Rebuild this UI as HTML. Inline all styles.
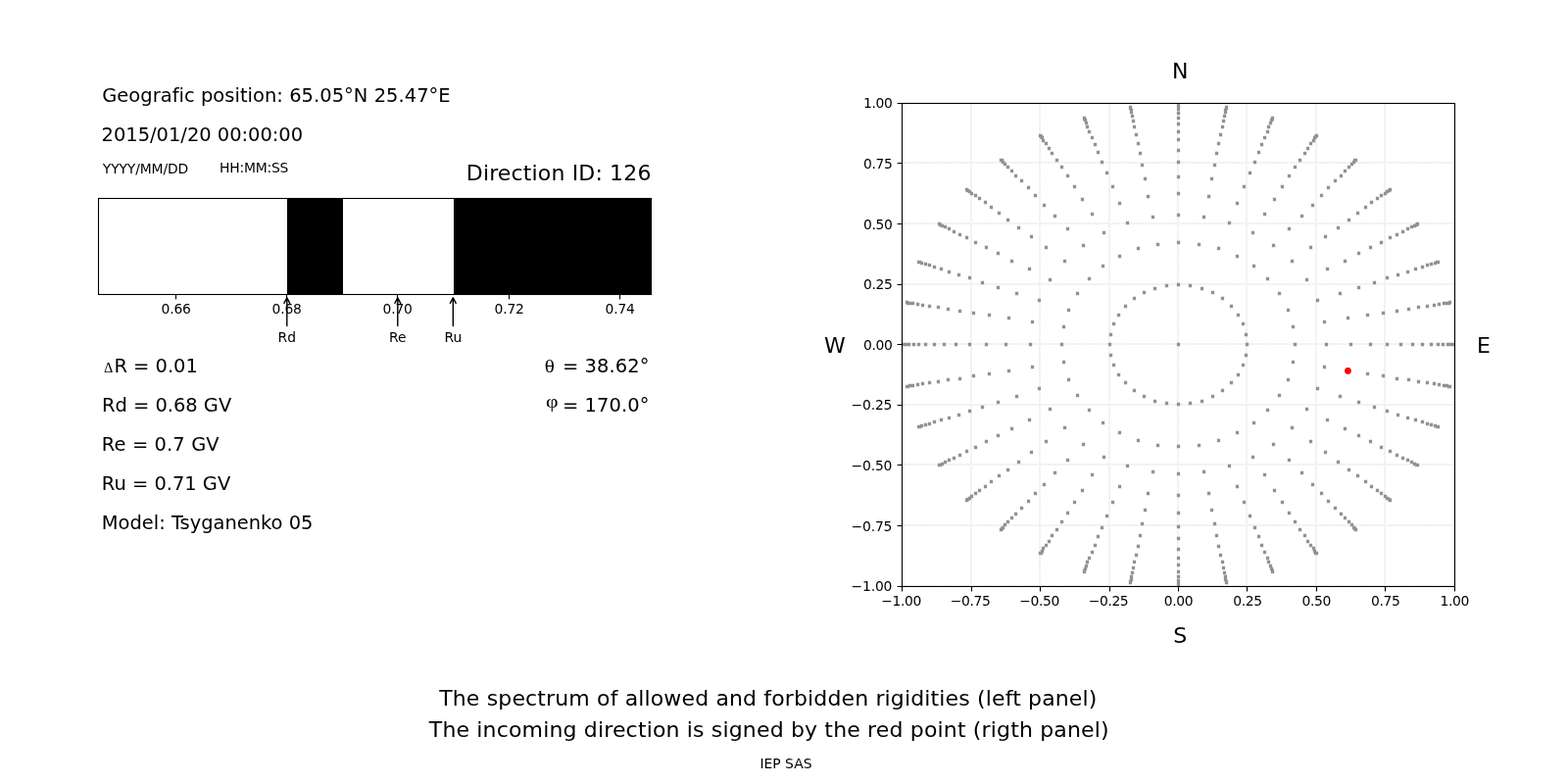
<!DOCTYPE html>
<html lang="en"><head><meta charset="utf-8"><title>Direction 126</title>
<style>html,body{margin:0;padding:0;background:#fff;overflow:hidden}svg{display:block}text{font-family:"DejaVu Sans","Liberation Sans",sans-serif;fill:#000;text-rendering:geometricPrecision;font-variant-ligatures:none;font-feature-settings:"liga" 0,"clig" 0}.s{font-family:"Liberation Serif","DejaVu Serif",serif}.t10{font-size:13.889px;text-rendering:auto}.t14{font-size:19.444px;text-rendering:auto}.t16{font-size:22px;text-rendering:auto}.m{text-anchor:middle}.e{text-anchor:end}</style></head><body>
<svg width="1600" height="800" viewBox="0 0 1600 800">
<rect width="1600" height="800" fill="#fff"/>
<g id="left">
<text class="t14" x="104.2" y="103.8" textLength="355.4">Geografic position: 65.05°N 25.47°E</text>
<text class="t14" x="103.6" y="143.6">2015/01/20 00:00:00</text>
<text class="t10" x="104.8" y="176.9" textLength="87.4">YYYY/MM/DD</text>
<text class="t10" x="224.0" y="176" textLength="70.4">HH:MM:SS</text>
<text class="t16 e" x="664.4" y="183.8" textLength="188.6">Direction ID: 126</text>
<rect x="293" y="202.5" width="57" height="98.0" fill="#000"/>
<rect x="463" y="202.5" width="201.5" height="98.0" fill="#000"/>
<rect x="100.5" y="202.5" width="564.0" height="98.0" fill="none" stroke="#000" stroke-width="1.1"/>
<line x1="179.5" y1="300.5" x2="179.5" y2="305.4" stroke="#000" stroke-width="1.1"/>
<text class="t10 m" x="179.7" y="319.8" textLength="30.3">0.66</text>
<line x1="292.5" y1="300.5" x2="292.5" y2="305.4" stroke="#000" stroke-width="1.1"/>
<text class="t10 m" x="292.7" y="319.8" textLength="30.3">0.68</text>
<line x1="405.5" y1="300.5" x2="405.5" y2="305.4" stroke="#000" stroke-width="1.1"/>
<text class="t10 m" x="405.7" y="319.8" textLength="30.3">0.70</text>
<line x1="519.5" y1="300.5" x2="519.5" y2="305.4" stroke="#000" stroke-width="1.1"/>
<text class="t10 m" x="519.7" y="319.8" textLength="30.3">0.72</text>
<line x1="632.5" y1="300.5" x2="632.5" y2="305.4" stroke="#000" stroke-width="1.1"/>
<text class="t10 m" x="632.7" y="319.8" textLength="30.3">0.74</text>
<path d="M292.8 332.6V303.9M289.9 309.4L292.8 303.9L295.7 309.4" fill="none" stroke="#000" stroke-width="1.4" stroke-linejoin="round" stroke-linecap="round"/>
<text class="t10 m" x="292.8" y="348.7">Rd</text>
<path d="M405.8 332.6V303.9M402.9 309.4L405.8 303.9L408.7 309.4" fill="none" stroke="#000" stroke-width="1.4" stroke-linejoin="round" stroke-linecap="round"/>
<text class="t10 m" x="405.8" y="348.7">Re</text>
<path d="M462.3 332.6V303.9M459.4 309.4L462.3 303.9L465.2 309.4" fill="none" stroke="#000" stroke-width="1.4" stroke-linejoin="round" stroke-linecap="round"/>
<text class="t10 m" x="462.3" y="348.7">Ru</text>
<text class="t14" x="106" y="380.1"><tspan class="s" font-size="14.5px">Δ</tspan><tspan x="116.4">R = 0.01</tspan></text>
<text class="t14" x="103.9" y="419.8">Rd = 0.68 GV</text>
<text class="t14" x="103.8" y="459.9" textLength="119.8">Re = 0.7 GV</text>
<text class="t14" x="103.8" y="499.9">Ru = 0.71 GV</text>
<text class="t14" x="103.8" y="540">Model: Tsyganenko 05</text>
<text class="t14 s" transform="translate(555.8 380.1) scale(1.09 0.95)">θ</text>
<text class="t14 e" x="662.5" y="380.1" textLength="88.6">= 38.62°</text>
<text class="t14 s" transform="translate(557 415.8) scale(1.12 0.98)">φ</text>
<text class="t14 e" x="662.5" y="419.8" textLength="88.6">= 170.0°</text>
</g>
<g id="right">
<clipPath id="c"><rect x="920.5" y="105.5" width="564.0" height="493.0"/></clipPath>
<path clip-path="url(#c)" d="M920 598.5V105.5M920.5 598H1484.5M991 598.5V105.5M920.5 536H1484.5M1061 598.5V105.5M920.5 474H1484.5M1132 598.5V105.5M920.5 413H1484.5M1202 598.5V105.5M920.5 351H1484.5M1272 598.5V105.5M920.5 290H1484.5M1343 598.5V105.5M920.5 228H1484.5M1413 598.5V105.5M920.5 166H1484.5M1484 598.5V105.5M920.5 105H1484.5" fill="none" stroke="#f5f5f5" stroke-width="2"/>
<path clip-path="url(#c)" d="M920 598.5V105.5M920.5 598H1484.5M991 598.5V105.5M920.5 536H1484.5M1061 598.5V105.5M920.5 474H1484.5M1132 598.5V105.5M920.5 413H1484.5M1202 598.5V105.5M920.5 351H1484.5M1272 598.5V105.5M920.5 290H1484.5M1343 598.5V105.5M920.5 228H1484.5M1413 598.5V105.5M920.5 166H1484.5M1484 598.5V105.5M920.5 105H1484.5" fill="none" stroke="#f2f2f2" stroke-width="2" stroke-dasharray="4.3 1.6"/>
<path clip-path="url(#c)" d="M1200.85 349.85h3.3v3.3h-3.3zM1270.85 349.85h3.3v3.3h-3.3zM1269.85 339.85h3.3v3.3h-3.3zM1266.85 328.85h3.3v3.3h-3.3zM1261.85 319.85h3.3v3.3h-3.3zM1254.85 310.85h3.3v3.3h-3.3zM1245.85 302.85h3.3v3.3h-3.3zM1235.85 296.85h3.3v3.3h-3.3zM1224.85 292.85h3.3v3.3h-3.3zM1212.85 289.85h3.3v3.3h-3.3zM1200.85 288.85h3.3v3.3h-3.3zM1188.85 289.85h3.3v3.3h-3.3zM1176.85 292.85h3.3v3.3h-3.3zM1165.85 296.85h3.3v3.3h-3.3zM1155.85 302.85h3.3v3.3h-3.3zM1146.85 310.85h3.3v3.3h-3.3zM1139.85 319.85h3.3v3.3h-3.3zM1134.85 328.85h3.3v3.3h-3.3zM1131.85 339.85h3.3v3.3h-3.3zM1130.85 349.85h3.3v3.3h-3.3zM1131.85 360.85h3.3v3.3h-3.3zM1134.85 370.85h3.3v3.3h-3.3zM1139.85 380.85h3.3v3.3h-3.3zM1146.85 388.85h3.3v3.3h-3.3zM1155.85 396.85h3.3v3.3h-3.3zM1165.85 402.85h3.3v3.3h-3.3zM1176.85 407.85h3.3v3.3h-3.3zM1188.85 409.85h3.3v3.3h-3.3zM1200.85 410.85h3.3v3.3h-3.3zM1212.85 409.85h3.3v3.3h-3.3zM1224.85 407.85h3.3v3.3h-3.3zM1235.85 402.85h3.3v3.3h-3.3zM1245.85 396.85h3.3v3.3h-3.3zM1254.85 388.85h3.3v3.3h-3.3zM1261.85 380.85h3.3v3.3h-3.3zM1266.85 370.85h3.3v3.3h-3.3zM1269.85 360.85h3.3v3.3h-3.3zM1319.85 349.85h3.3v3.3h-3.3zM1317.85 331.85h3.3v3.3h-3.3zM1312.85 314.85h3.3v3.3h-3.3zM1303.85 297.85h3.3v3.3h-3.3zM1291.85 282.85h3.3v3.3h-3.3zM1277.85 269.85h3.3v3.3h-3.3zM1260.85 259.85h3.3v3.3h-3.3zM1241.85 251.85h3.3v3.3h-3.3zM1221.85 247.85h3.3v3.3h-3.3zM1200.85 245.85h3.3v3.3h-3.3zM1179.85 247.85h3.3v3.3h-3.3zM1159.85 251.85h3.3v3.3h-3.3zM1140.85 259.85h3.3v3.3h-3.3zM1123.85 269.85h3.3v3.3h-3.3zM1109.85 282.85h3.3v3.3h-3.3zM1097.85 297.85h3.3v3.3h-3.3zM1088.85 314.85h3.3v3.3h-3.3zM1083.85 331.85h3.3v3.3h-3.3zM1081.85 349.85h3.3v3.3h-3.3zM1083.85 367.85h3.3v3.3h-3.3zM1088.85 385.85h3.3v3.3h-3.3zM1097.85 401.85h3.3v3.3h-3.3zM1109.85 416.85h3.3v3.3h-3.3zM1123.85 429.85h3.3v3.3h-3.3zM1140.85 439.85h3.3v3.3h-3.3zM1159.85 447.85h3.3v3.3h-3.3zM1179.85 452.85h3.3v3.3h-3.3zM1200.85 453.85h3.3v3.3h-3.3zM1221.85 452.85h3.3v3.3h-3.3zM1241.85 447.85h3.3v3.3h-3.3zM1260.85 439.85h3.3v3.3h-3.3zM1277.85 429.85h3.3v3.3h-3.3zM1291.85 416.85h3.3v3.3h-3.3zM1303.85 401.85h3.3v3.3h-3.3zM1312.85 385.85h3.3v3.3h-3.3zM1317.85 367.85h3.3v3.3h-3.3zM1351.85 349.85h3.3v3.3h-3.3zM1349.85 326.85h3.3v3.3h-3.3zM1342.85 304.85h3.3v3.3h-3.3zM1331.85 283.85h3.3v3.3h-3.3zM1316.85 264.85h3.3v3.3h-3.3zM1297.85 248.85h3.3v3.3h-3.3zM1276.85 235.85h3.3v3.3h-3.3zM1252.85 225.85h3.3v3.3h-3.3zM1226.85 219.85h3.3v3.3h-3.3zM1200.85 217.85h3.3v3.3h-3.3zM1174.85 219.85h3.3v3.3h-3.3zM1148.85 225.85h3.3v3.3h-3.3zM1124.85 235.85h3.3v3.3h-3.3zM1103.85 248.85h3.3v3.3h-3.3zM1084.85 264.85h3.3v3.3h-3.3zM1069.85 283.85h3.3v3.3h-3.3zM1058.85 304.85h3.3v3.3h-3.3zM1051.85 326.85h3.3v3.3h-3.3zM1049.85 349.85h3.3v3.3h-3.3zM1051.85 372.85h3.3v3.3h-3.3zM1058.85 394.85h3.3v3.3h-3.3zM1069.85 415.85h3.3v3.3h-3.3zM1084.85 434.85h3.3v3.3h-3.3zM1103.85 451.85h3.3v3.3h-3.3zM1124.85 464.85h3.3v3.3h-3.3zM1148.85 473.85h3.3v3.3h-3.3zM1174.85 479.85h3.3v3.3h-3.3zM1200.85 481.85h3.3v3.3h-3.3zM1226.85 479.85h3.3v3.3h-3.3zM1252.85 473.85h3.3v3.3h-3.3zM1276.85 464.85h3.3v3.3h-3.3zM1297.85 451.85h3.3v3.3h-3.3zM1316.85 434.85h3.3v3.3h-3.3zM1331.85 415.85h3.3v3.3h-3.3zM1342.85 394.85h3.3v3.3h-3.3zM1349.85 372.85h3.3v3.3h-3.3zM1376.85 349.85h3.3v3.3h-3.3zM1373.85 322.85h3.3v3.3h-3.3zM1365.85 297.85h3.3v3.3h-3.3zM1352.85 272.85h3.3v3.3h-3.3zM1335.85 250.85h3.3v3.3h-3.3zM1313.85 231.85h3.3v3.3h-3.3zM1288.85 216.85h3.3v3.3h-3.3zM1260.85 205.85h3.3v3.3h-3.3zM1231.85 198.85h3.3v3.3h-3.3zM1200.85 195.85h3.3v3.3h-3.3zM1169.85 198.85h3.3v3.3h-3.3zM1140.85 205.85h3.3v3.3h-3.3zM1112.85 216.85h3.3v3.3h-3.3zM1087.85 231.85h3.3v3.3h-3.3zM1065.85 250.85h3.3v3.3h-3.3zM1048.85 272.85h3.3v3.3h-3.3zM1035.85 297.85h3.3v3.3h-3.3zM1027.85 322.85h3.3v3.3h-3.3zM1024.85 349.85h3.3v3.3h-3.3zM1027.85 376.85h3.3v3.3h-3.3zM1035.85 402.85h3.3v3.3h-3.3zM1048.85 426.85h3.3v3.3h-3.3zM1065.85 448.85h3.3v3.3h-3.3zM1087.85 467.85h3.3v3.3h-3.3zM1112.85 482.85h3.3v3.3h-3.3zM1140.85 494.85h3.3v3.3h-3.3zM1169.85 501.85h3.3v3.3h-3.3zM1200.85 503.85h3.3v3.3h-3.3zM1231.85 501.85h3.3v3.3h-3.3zM1260.85 494.85h3.3v3.3h-3.3zM1288.85 482.85h3.3v3.3h-3.3zM1313.85 467.85h3.3v3.3h-3.3zM1335.85 448.85h3.3v3.3h-3.3zM1352.85 426.85h3.3v3.3h-3.3zM1365.85 402.85h3.3v3.3h-3.3zM1373.85 376.85h3.3v3.3h-3.3zM1396.85 349.85h3.3v3.3h-3.3zM1393.85 319.85h3.3v3.3h-3.3zM1384.85 291.85h3.3v3.3h-3.3zM1370.85 264.85h3.3v3.3h-3.3zM1350.85 239.85h3.3v3.3h-3.3zM1326.85 218.85h3.3v3.3h-3.3zM1298.85 201.85h3.3v3.3h-3.3zM1267.85 188.85h3.3v3.3h-3.3zM1234.85 180.85h3.3v3.3h-3.3zM1200.85 178.85h3.3v3.3h-3.3zM1166.85 180.85h3.3v3.3h-3.3zM1133.85 188.85h3.3v3.3h-3.3zM1102.85 201.85h3.3v3.3h-3.3zM1074.85 218.85h3.3v3.3h-3.3zM1050.85 239.85h3.3v3.3h-3.3zM1030.85 264.85h3.3v3.3h-3.3zM1016.85 291.85h3.3v3.3h-3.3zM1007.85 319.85h3.3v3.3h-3.3zM1004.85 349.85h3.3v3.3h-3.3zM1007.85 379.85h3.3v3.3h-3.3zM1016.85 408.85h3.3v3.3h-3.3zM1030.85 435.85h3.3v3.3h-3.3zM1050.85 459.85h3.3v3.3h-3.3zM1074.85 480.85h3.3v3.3h-3.3zM1102.85 498.85h3.3v3.3h-3.3zM1133.85 510.85h3.3v3.3h-3.3zM1166.85 518.85h3.3v3.3h-3.3zM1200.85 521.85h3.3v3.3h-3.3zM1234.85 518.85h3.3v3.3h-3.3zM1267.85 510.85h3.3v3.3h-3.3zM1298.85 498.85h3.3v3.3h-3.3zM1326.85 480.85h3.3v3.3h-3.3zM1350.85 459.85h3.3v3.3h-3.3zM1370.85 435.85h3.3v3.3h-3.3zM1384.85 408.85h3.3v3.3h-3.3zM1393.85 379.85h3.3v3.3h-3.3zM1413.85 349.85h3.3v3.3h-3.3zM1409.85 317.85h3.3v3.3h-3.3zM1400.85 286.85h3.3v3.3h-3.3zM1384.85 256.85h3.3v3.3h-3.3zM1363.85 230.85h3.3v3.3h-3.3zM1337.85 207.85h3.3v3.3h-3.3zM1306.85 188.85h3.3v3.3h-3.3zM1273.85 174.85h3.3v3.3h-3.3zM1237.85 166.85h3.3v3.3h-3.3zM1200.85 163.85h3.3v3.3h-3.3zM1163.85 166.85h3.3v3.3h-3.3zM1127.85 174.85h3.3v3.3h-3.3zM1094.85 188.85h3.3v3.3h-3.3zM1063.85 207.85h3.3v3.3h-3.3zM1037.85 230.85h3.3v3.3h-3.3zM1016.85 256.85h3.3v3.3h-3.3zM1000.85 286.85h3.3v3.3h-3.3zM991.85 317.85h3.3v3.3h-3.3zM987.85 349.85h3.3v3.3h-3.3zM991.85 381.85h3.3v3.3h-3.3zM1000.85 413.85h3.3v3.3h-3.3zM1016.85 442.85h3.3v3.3h-3.3zM1037.85 469.85h3.3v3.3h-3.3zM1063.85 492.85h3.3v3.3h-3.3zM1094.85 510.85h3.3v3.3h-3.3zM1127.85 524.85h3.3v3.3h-3.3zM1163.85 532.85h3.3v3.3h-3.3zM1200.85 535.85h3.3v3.3h-3.3zM1237.85 532.85h3.3v3.3h-3.3zM1273.85 524.85h3.3v3.3h-3.3zM1306.85 510.85h3.3v3.3h-3.3zM1337.85 492.85h3.3v3.3h-3.3zM1363.85 469.85h3.3v3.3h-3.3zM1384.85 442.85h3.3v3.3h-3.3zM1400.85 413.85h3.3v3.3h-3.3zM1409.85 381.85h3.3v3.3h-3.3zM1427.85 349.85h3.3v3.3h-3.3zM1423.85 315.85h3.3v3.3h-3.3zM1413.85 281.85h3.3v3.3h-3.3zM1396.85 250.85h3.3v3.3h-3.3zM1374.85 222.85h3.3v3.3h-3.3zM1346.85 197.85h3.3v3.3h-3.3zM1313.85 177.85h3.3v3.3h-3.3zM1278.85 163.85h3.3v3.3h-3.3zM1239.85 154.85h3.3v3.3h-3.3zM1200.85 151.85h3.3v3.3h-3.3zM1161.85 154.85h3.3v3.3h-3.3zM1122.85 163.85h3.3v3.3h-3.3zM1087.85 177.85h3.3v3.3h-3.3zM1054.85 197.85h3.3v3.3h-3.3zM1026.85 222.85h3.3v3.3h-3.3zM1004.85 250.85h3.3v3.3h-3.3zM987.85 281.85h3.3v3.3h-3.3zM977.85 315.85h3.3v3.3h-3.3zM973.85 349.85h3.3v3.3h-3.3zM977.85 384.85h3.3v3.3h-3.3zM987.85 417.85h3.3v3.3h-3.3zM1004.85 448.85h3.3v3.3h-3.3zM1026.85 477.85h3.3v3.3h-3.3zM1054.85 501.85h3.3v3.3h-3.3zM1087.85 521.85h3.3v3.3h-3.3zM1122.85 536.85h3.3v3.3h-3.3zM1161.85 544.85h3.3v3.3h-3.3zM1200.85 547.85h3.3v3.3h-3.3zM1239.85 544.85h3.3v3.3h-3.3zM1278.85 536.85h3.3v3.3h-3.3zM1313.85 521.85h3.3v3.3h-3.3zM1346.85 501.85h3.3v3.3h-3.3zM1374.85 477.85h3.3v3.3h-3.3zM1396.85 448.85h3.3v3.3h-3.3zM1413.85 417.85h3.3v3.3h-3.3zM1423.85 384.85h3.3v3.3h-3.3zM1439.85 349.85h3.3v3.3h-3.3zM1435.85 313.85h3.3v3.3h-3.3zM1424.85 278.85h3.3v3.3h-3.3zM1407.85 245.85h3.3v3.3h-3.3zM1383.85 215.85h3.3v3.3h-3.3zM1353.85 189.85h3.3v3.3h-3.3zM1319.85 168.85h3.3v3.3h-3.3zM1282.85 153.85h3.3v3.3h-3.3zM1241.85 144.85h3.3v3.3h-3.3zM1200.85 140.85h3.3v3.3h-3.3zM1159.85 144.85h3.3v3.3h-3.3zM1118.85 153.85h3.3v3.3h-3.3zM1081.85 168.85h3.3v3.3h-3.3zM1047.85 189.85h3.3v3.3h-3.3zM1017.85 215.85h3.3v3.3h-3.3zM993.85 245.85h3.3v3.3h-3.3zM976.85 278.85h3.3v3.3h-3.3zM965.85 313.85h3.3v3.3h-3.3zM961.85 349.85h3.3v3.3h-3.3zM965.85 385.85h3.3v3.3h-3.3zM976.85 421.85h3.3v3.3h-3.3zM993.85 454.85h3.3v3.3h-3.3zM1017.85 483.85h3.3v3.3h-3.3zM1047.85 509.85h3.3v3.3h-3.3zM1081.85 530.85h3.3v3.3h-3.3zM1118.85 545.85h3.3v3.3h-3.3zM1159.85 555.85h3.3v3.3h-3.3zM1200.85 558.85h3.3v3.3h-3.3zM1241.85 555.85h3.3v3.3h-3.3zM1282.85 545.85h3.3v3.3h-3.3zM1319.85 530.85h3.3v3.3h-3.3zM1353.85 509.85h3.3v3.3h-3.3zM1383.85 483.85h3.3v3.3h-3.3zM1407.85 454.85h3.3v3.3h-3.3zM1424.85 421.85h3.3v3.3h-3.3zM1435.85 385.85h3.3v3.3h-3.3zM1449.85 349.85h3.3v3.3h-3.3zM1445.85 311.85h3.3v3.3h-3.3zM1434.85 275.85h3.3v3.3h-3.3zM1416.85 240.85h3.3v3.3h-3.3zM1391.85 209.85h3.3v3.3h-3.3zM1360.85 182.85h3.3v3.3h-3.3zM1324.85 161.85h3.3v3.3h-3.3zM1285.85 145.85h3.3v3.3h-3.3zM1243.85 135.85h3.3v3.3h-3.3zM1200.85 132.85h3.3v3.3h-3.3zM1157.85 135.85h3.3v3.3h-3.3zM1115.85 145.85h3.3v3.3h-3.3zM1076.85 161.85h3.3v3.3h-3.3zM1040.85 182.85h3.3v3.3h-3.3zM1009.85 209.85h3.3v3.3h-3.3zM984.85 240.85h3.3v3.3h-3.3zM966.85 275.85h3.3v3.3h-3.3zM955.85 311.85h3.3v3.3h-3.3zM951.85 349.85h3.3v3.3h-3.3zM955.85 387.85h3.3v3.3h-3.3zM966.85 424.85h3.3v3.3h-3.3zM984.85 458.85h3.3v3.3h-3.3zM1009.85 489.85h3.3v3.3h-3.3zM1040.85 516.85h3.3v3.3h-3.3zM1076.85 538.85h3.3v3.3h-3.3zM1115.85 554.85h3.3v3.3h-3.3zM1157.85 564.85h3.3v3.3h-3.3zM1200.85 567.85h3.3v3.3h-3.3zM1243.85 564.85h3.3v3.3h-3.3zM1285.85 554.85h3.3v3.3h-3.3zM1324.85 538.85h3.3v3.3h-3.3zM1360.85 516.85h3.3v3.3h-3.3zM1391.85 489.85h3.3v3.3h-3.3zM1416.85 458.85h3.3v3.3h-3.3zM1434.85 424.85h3.3v3.3h-3.3zM1445.85 387.85h3.3v3.3h-3.3zM1458.85 349.85h3.3v3.3h-3.3zM1454.85 310.85h3.3v3.3h-3.3zM1442.85 272.85h3.3v3.3h-3.3zM1423.85 237.85h3.3v3.3h-3.3zM1397.85 204.85h3.3v3.3h-3.3zM1366.85 177.85h3.3v3.3h-3.3zM1329.85 154.85h3.3v3.3h-3.3zM1288.85 138.85h3.3v3.3h-3.3zM1245.85 127.85h3.3v3.3h-3.3zM1200.85 124.85h3.3v3.3h-3.3zM1155.85 127.85h3.3v3.3h-3.3zM1112.85 138.85h3.3v3.3h-3.3zM1071.85 154.85h3.3v3.3h-3.3zM1034.85 177.85h3.3v3.3h-3.3zM1003.85 204.85h3.3v3.3h-3.3zM977.85 237.85h3.3v3.3h-3.3zM958.85 272.85h3.3v3.3h-3.3zM946.85 310.85h3.3v3.3h-3.3zM942.85 349.85h3.3v3.3h-3.3zM946.85 388.85h3.3v3.3h-3.3zM958.85 426.85h3.3v3.3h-3.3zM977.85 462.85h3.3v3.3h-3.3zM1003.85 494.85h3.3v3.3h-3.3zM1034.85 522.85h3.3v3.3h-3.3zM1071.85 544.85h3.3v3.3h-3.3zM1112.85 561.85h3.3v3.3h-3.3zM1155.85 571.85h3.3v3.3h-3.3zM1200.85 574.85h3.3v3.3h-3.3zM1245.85 571.85h3.3v3.3h-3.3zM1288.85 561.85h3.3v3.3h-3.3zM1329.85 544.85h3.3v3.3h-3.3zM1366.85 522.85h3.3v3.3h-3.3zM1397.85 494.85h3.3v3.3h-3.3zM1423.85 462.85h3.3v3.3h-3.3zM1442.85 426.85h3.3v3.3h-3.3zM1454.85 388.85h3.3v3.3h-3.3zM1465.85 349.85h3.3v3.3h-3.3zM1461.85 309.85h3.3v3.3h-3.3zM1449.85 270.85h3.3v3.3h-3.3zM1429.85 234.85h3.3v3.3h-3.3zM1403.85 200.85h3.3v3.3h-3.3zM1370.85 172.85h3.3v3.3h-3.3zM1332.85 149.85h3.3v3.3h-3.3zM1291.85 132.85h3.3v3.3h-3.3zM1246.85 121.85h3.3v3.3h-3.3zM1200.85 118.85h3.3v3.3h-3.3zM1154.85 121.85h3.3v3.3h-3.3zM1109.85 132.85h3.3v3.3h-3.3zM1068.85 149.85h3.3v3.3h-3.3zM1030.85 172.85h3.3v3.3h-3.3zM997.85 200.85h3.3v3.3h-3.3zM971.85 234.85h3.3v3.3h-3.3zM951.85 270.85h3.3v3.3h-3.3zM939.85 309.85h3.3v3.3h-3.3zM935.85 349.85h3.3v3.3h-3.3zM939.85 389.85h3.3v3.3h-3.3zM951.85 428.85h3.3v3.3h-3.3zM971.85 465.85h3.3v3.3h-3.3zM997.85 498.85h3.3v3.3h-3.3zM1030.85 526.85h3.3v3.3h-3.3zM1068.85 550.85h3.3v3.3h-3.3zM1109.85 567.85h3.3v3.3h-3.3zM1154.85 577.85h3.3v3.3h-3.3zM1200.85 581.85h3.3v3.3h-3.3zM1246.85 577.85h3.3v3.3h-3.3zM1291.85 567.85h3.3v3.3h-3.3zM1332.85 550.85h3.3v3.3h-3.3zM1370.85 526.85h3.3v3.3h-3.3zM1403.85 498.85h3.3v3.3h-3.3zM1429.85 465.85h3.3v3.3h-3.3zM1449.85 428.85h3.3v3.3h-3.3zM1461.85 389.85h3.3v3.3h-3.3zM1470.85 349.85h3.3v3.3h-3.3zM1466.85 308.85h3.3v3.3h-3.3zM1454.85 268.85h3.3v3.3h-3.3zM1434.85 231.85h3.3v3.3h-3.3zM1407.85 197.85h3.3v3.3h-3.3zM1374.85 168.85h3.3v3.3h-3.3zM1335.85 144.85h3.3v3.3h-3.3zM1292.85 127.85h3.3v3.3h-3.3zM1247.85 116.85h3.3v3.3h-3.3zM1200.85 113.85h3.3v3.3h-3.3zM1153.85 116.85h3.3v3.3h-3.3zM1107.85 127.85h3.3v3.3h-3.3zM1065.85 144.85h3.3v3.3h-3.3zM1026.85 168.85h3.3v3.3h-3.3zM993.85 197.85h3.3v3.3h-3.3zM966.85 231.85h3.3v3.3h-3.3zM946.85 268.85h3.3v3.3h-3.3zM934.85 308.85h3.3v3.3h-3.3zM930.85 349.85h3.3v3.3h-3.3zM934.85 390.85h3.3v3.3h-3.3zM946.85 430.85h3.3v3.3h-3.3zM966.85 467.85h3.3v3.3h-3.3zM993.85 501.85h3.3v3.3h-3.3zM1026.85 530.85h3.3v3.3h-3.3zM1065.85 554.85h3.3v3.3h-3.3zM1107.85 571.85h3.3v3.3h-3.3zM1153.85 582.85h3.3v3.3h-3.3zM1200.85 586.85h3.3v3.3h-3.3zM1247.85 582.85h3.3v3.3h-3.3zM1292.85 571.85h3.3v3.3h-3.3zM1335.85 554.85h3.3v3.3h-3.3zM1374.85 530.85h3.3v3.3h-3.3zM1407.85 501.85h3.3v3.3h-3.3zM1434.85 467.85h3.3v3.3h-3.3zM1454.85 430.85h3.3v3.3h-3.3zM1466.85 390.85h3.3v3.3h-3.3zM1475.85 349.85h3.3v3.3h-3.3zM1471.85 307.85h3.3v3.3h-3.3zM1458.85 267.85h3.3v3.3h-3.3zM1438.85 229.85h3.3v3.3h-3.3zM1411.85 195.85h3.3v3.3h-3.3zM1377.85 165.85h3.3v3.3h-3.3zM1338.85 141.85h3.3v3.3h-3.3zM1294.85 123.85h3.3v3.3h-3.3zM1248.85 112.85h3.3v3.3h-3.3zM1200.85 109.85h3.3v3.3h-3.3zM1152.85 112.85h3.3v3.3h-3.3zM1106.85 123.85h3.3v3.3h-3.3zM1062.85 141.85h3.3v3.3h-3.3zM1023.85 165.85h3.3v3.3h-3.3zM989.85 195.85h3.3v3.3h-3.3zM962.85 229.85h3.3v3.3h-3.3zM942.85 267.85h3.3v3.3h-3.3zM929.85 307.85h3.3v3.3h-3.3zM925.85 349.85h3.3v3.3h-3.3zM929.85 391.85h3.3v3.3h-3.3zM942.85 431.85h3.3v3.3h-3.3zM962.85 469.85h3.3v3.3h-3.3zM989.85 504.85h3.3v3.3h-3.3zM1023.85 533.85h3.3v3.3h-3.3zM1062.85 557.85h3.3v3.3h-3.3zM1106.85 575.85h3.3v3.3h-3.3zM1152.85 586.85h3.3v3.3h-3.3zM1200.85 590.85h3.3v3.3h-3.3zM1248.85 586.85h3.3v3.3h-3.3zM1294.85 575.85h3.3v3.3h-3.3zM1338.85 557.85h3.3v3.3h-3.3zM1377.85 533.85h3.3v3.3h-3.3zM1411.85 504.85h3.3v3.3h-3.3zM1438.85 469.85h3.3v3.3h-3.3zM1458.85 431.85h3.3v3.3h-3.3zM1471.85 391.85h3.3v3.3h-3.3zM1478.85 349.85h3.3v3.3h-3.3zM1474.85 307.85h3.3v3.3h-3.3zM1462.85 266.85h3.3v3.3h-3.3zM1441.85 228.85h3.3v3.3h-3.3zM1413.85 193.85h3.3v3.3h-3.3zM1379.85 163.85h3.3v3.3h-3.3zM1339.85 138.85h3.3v3.3h-3.3zM1295.85 120.85h3.3v3.3h-3.3zM1248.85 110.85h3.3v3.3h-3.3zM1200.85 106.85h3.3v3.3h-3.3zM1152.85 110.85h3.3v3.3h-3.3zM1105.85 120.85h3.3v3.3h-3.3zM1061.85 138.85h3.3v3.3h-3.3zM1021.85 163.85h3.3v3.3h-3.3zM987.85 193.85h3.3v3.3h-3.3zM959.85 228.85h3.3v3.3h-3.3zM938.85 266.85h3.3v3.3h-3.3zM926.85 307.85h3.3v3.3h-3.3zM922.85 349.85h3.3v3.3h-3.3zM926.85 391.85h3.3v3.3h-3.3zM938.85 432.85h3.3v3.3h-3.3zM959.85 471.85h3.3v3.3h-3.3zM987.85 506.85h3.3v3.3h-3.3zM1021.85 536.85h3.3v3.3h-3.3zM1061.85 560.85h3.3v3.3h-3.3zM1105.85 578.85h3.3v3.3h-3.3zM1152.85 589.85h3.3v3.3h-3.3zM1200.85 593.85h3.3v3.3h-3.3zM1248.85 589.85h3.3v3.3h-3.3zM1295.85 578.85h3.3v3.3h-3.3zM1339.85 560.85h3.3v3.3h-3.3zM1379.85 536.85h3.3v3.3h-3.3zM1413.85 506.85h3.3v3.3h-3.3zM1441.85 471.85h3.3v3.3h-3.3zM1462.85 432.85h3.3v3.3h-3.3zM1474.85 391.85h3.3v3.3h-3.3zM1481.85 349.85h3.3v3.3h-3.3zM1476.85 307.85h3.3v3.3h-3.3zM1464.85 265.85h3.3v3.3h-3.3zM1443.85 227.85h3.3v3.3h-3.3zM1415.85 192.85h3.3v3.3h-3.3zM1380.85 161.85h3.3v3.3h-3.3zM1340.85 137.85h3.3v3.3h-3.3zM1296.85 119.85h3.3v3.3h-3.3zM1249.85 108.85h3.3v3.3h-3.3zM1200.85 104.85h3.3v3.3h-3.3zM1151.85 108.85h3.3v3.3h-3.3zM1104.85 119.85h3.3v3.3h-3.3zM1060.85 137.85h3.3v3.3h-3.3zM1020.85 161.85h3.3v3.3h-3.3zM985.85 192.85h3.3v3.3h-3.3zM957.85 227.85h3.3v3.3h-3.3zM936.85 265.85h3.3v3.3h-3.3zM924.85 307.85h3.3v3.3h-3.3zM919.85 349.85h3.3v3.3h-3.3zM924.85 392.85h3.3v3.3h-3.3zM936.85 433.85h3.3v3.3h-3.3zM957.85 472.85h3.3v3.3h-3.3zM985.85 507.85h3.3v3.3h-3.3zM1020.85 537.85h3.3v3.3h-3.3zM1060.85 562.85h3.3v3.3h-3.3zM1104.85 580.85h3.3v3.3h-3.3zM1151.85 591.85h3.3v3.3h-3.3zM1200.85 595.85h3.3v3.3h-3.3zM1249.85 591.85h3.3v3.3h-3.3zM1296.85 580.85h3.3v3.3h-3.3zM1340.85 562.85h3.3v3.3h-3.3zM1380.85 537.85h3.3v3.3h-3.3zM1415.85 507.85h3.3v3.3h-3.3zM1443.85 472.85h3.3v3.3h-3.3zM1464.85 433.85h3.3v3.3h-3.3zM1476.85 392.85h3.3v3.3h-3.3zM1482.85 349.85h3.3v3.3h-3.3zM1477.85 306.85h3.3v3.3h-3.3zM1465.85 265.85h3.3v3.3h-3.3zM1444.85 226.85h3.3v3.3h-3.3zM1416.85 191.85h3.3v3.3h-3.3zM1381.85 161.85h3.3v3.3h-3.3zM1341.85 136.85h3.3v3.3h-3.3zM1296.85 118.85h3.3v3.3h-3.3zM1249.85 107.85h3.3v3.3h-3.3zM1200.85 103.85h3.3v3.3h-3.3zM1151.85 107.85h3.3v3.3h-3.3zM1104.85 118.85h3.3v3.3h-3.3zM1059.85 136.85h3.3v3.3h-3.3zM1019.85 161.85h3.3v3.3h-3.3zM984.85 191.85h3.3v3.3h-3.3zM956.85 226.85h3.3v3.3h-3.3zM935.85 265.85h3.3v3.3h-3.3zM923.85 306.85h3.3v3.3h-3.3zM918.85 349.85h3.3v3.3h-3.3zM923.85 392.85h3.3v3.3h-3.3zM935.85 433.85h3.3v3.3h-3.3zM956.85 472.85h3.3v3.3h-3.3zM984.85 508.85h3.3v3.3h-3.3zM1019.85 538.85h3.3v3.3h-3.3zM1059.85 562.85h3.3v3.3h-3.3zM1104.85 581.85h3.3v3.3h-3.3zM1151.85 592.85h3.3v3.3h-3.3zM1200.85 595.85h3.3v3.3h-3.3zM1249.85 592.85h3.3v3.3h-3.3zM1296.85 581.85h3.3v3.3h-3.3zM1341.85 562.85h3.3v3.3h-3.3zM1381.85 538.85h3.3v3.3h-3.3zM1416.85 508.85h3.3v3.3h-3.3zM1444.85 472.85h3.3v3.3h-3.3zM1465.85 433.85h3.3v3.3h-3.3zM1477.85 392.85h3.3v3.3h-3.3z" fill="#929292"/>
<circle cx="1375.45" cy="378.41" r="3.35" fill="#f00"/>
<rect x="920.5" y="105.5" width="564.0" height="493.0" fill="none" stroke="#000" stroke-width="1.1"/>
<path d="M920.5 598.5v4.9M920.5 598.5h-4.9M991.5 598.5v4.9M920.5 536.5h-4.9M1061.5 598.5v4.9M920.5 474.5h-4.9M1132.5 598.5v4.9M920.5 413.5h-4.9M1202.5 598.5v4.9M920.5 351.5h-4.9M1272.5 598.5v4.9M920.5 290.5h-4.9M1343.5 598.5v4.9M920.5 228.5h-4.9M1413.5 598.5v4.9M920.5 166.5h-4.9M1484.5 598.5v4.9M920.5 105.5h-4.9" fill="none" stroke="#000" stroke-width="1.1"/>
<text class="t10 m" x="919.8" y="617.9" textLength="41.0">−1.00</text>
<text class="t10 e" x="910.4" y="603.2" textLength="41.9">−1.00</text>
<text class="t10 m" x="990.3" y="617.9" textLength="41.0">−0.75</text>
<text class="t10 e" x="910.4" y="541.6" textLength="41.9">−0.75</text>
<text class="t10 m" x="1060.8" y="617.9" textLength="41.0">−0.50</text>
<text class="t10 e" x="910.4" y="480.0" textLength="41.9">−0.50</text>
<text class="t10 m" x="1131.2" y="617.9" textLength="41.0">−0.25</text>
<text class="t10 e" x="910.4" y="418.4" textLength="41.9">−0.25</text>
<text class="t10 m" x="1202.6" y="617.9" textLength="29.8">0.00</text>
<text class="t10 e" x="910.9" y="356.8" textLength="29.8">0.00</text>
<text class="t10 m" x="1273.1" y="617.9" textLength="29.8">0.25</text>
<text class="t10 e" x="910.9" y="295.2" textLength="29.8">0.25</text>
<text class="t10 m" x="1343.5" y="617.9" textLength="29.8">0.50</text>
<text class="t10 e" x="910.9" y="233.6" textLength="29.8">0.50</text>
<text class="t10 m" x="1414.0" y="617.9" textLength="29.8">0.75</text>
<text class="t10 e" x="910.9" y="172.0" textLength="29.8">0.75</text>
<text class="t10 m" x="1484.4" y="617.9" textLength="29.8">1.00</text>
<text class="t10 e" x="910.9" y="110.4" textLength="29.8">1.00</text>
<text class="t16 m" x="1204.2" y="80">N</text>
<text class="t16 m" x="1204.2" y="656">S</text>
<text class="t16 m" x="852" y="360">W</text>
<text class="t16" x="1506.9" y="360">E</text>
</g>
<text class="t16 m" x="783.8" y="720" textLength="671.2">The spectrum of allowed and forbidden rigidities (left panel)</text>
<text class="t16 m" x="784.7" y="752.2" textLength="693.8">The incoming direction is signed by the red point (rigth panel)</text>
<text class="t10 m" x="802" y="784">IEP SAS</text>
</svg></body></html>
